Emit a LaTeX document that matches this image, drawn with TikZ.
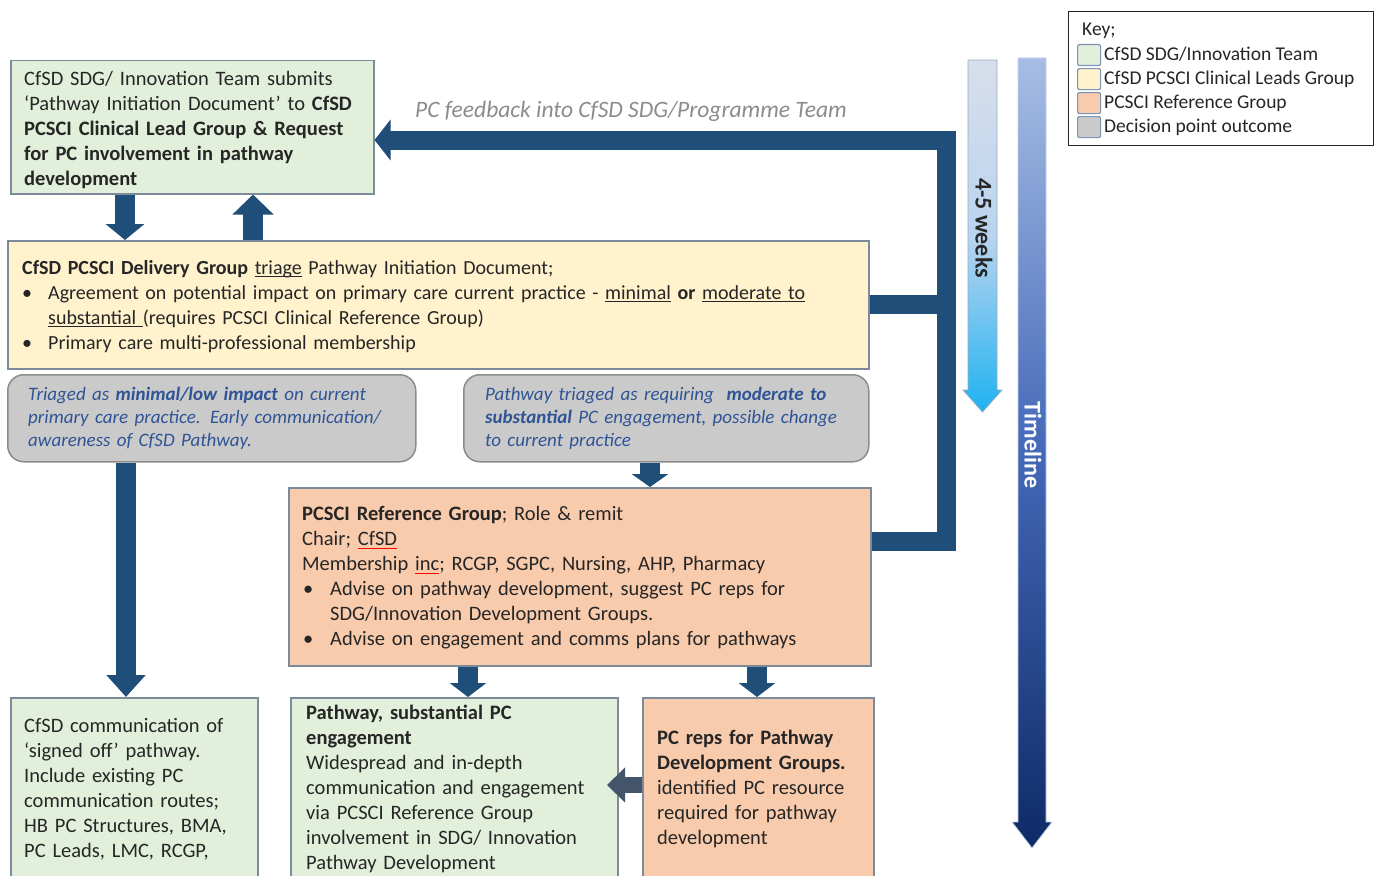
\documentclass[tikz,border=0pt]{standalone}
\usepackage{fontspec}
\setmainfont{Carlito}
\usetikzlibrary{arrows.meta}
\newsavebox\spbox
\newcommand\myul[1]{\sbox\spbox{#1}\rlap{\rule[-3pt]{\wd\spbox}{0.9pt}}\usebox\spbox}
\newcommand\spellerr[1]{\sbox\spbox{#1}\rlap{\textcolor{red}{\rule[-3.5pt]{\wd\spbox}{0.7pt}}}\usebox\spbox}
\definecolor{navy}{HTML}{1F4E79}
\definecolor{greenfill}{HTML}{E2EFDA}
\definecolor{yellowfill}{HTML}{FFF2CC}
\definecolor{orangefill}{HTML}{F8CBAD}
\definecolor{grayfill}{HTML}{CACACA}
\definecolor{boxborder}{HTML}{7C8A99}
\definecolor{graytext}{HTML}{2F5496}
\definecolor{fbgray}{HTML}{8C8C8C}
\definecolor{slate}{HTML}{44546A}
\definecolor{maintext}{HTML}{262626}
\definecolor{swatchborder}{HTML}{7A96B4}
\definecolor{wkTop}{HTML}{D8DEEB}
\definecolor{wkMid}{HTML}{B9D4EF}
\definecolor{wkBot}{HTML}{1FB2F0}
\definecolor{tlTop}{HTML}{A7BDE4}
\definecolor{tlMid}{HTML}{4468B8}
\definecolor{tlBot}{HTML}{0E2A66}
\tikzset{
  box/.style={draw=boxborder, line width=1.5pt, inner sep=0pt, anchor=north west, rectangle},
  graybox/.style={draw=gray!90, line width=1.5pt, inner sep=0pt, anchor=north west, rectangle, rounded corners=16pt, fill=grayfill},
  txt/.style={inner sep=0pt, anchor=base west, align=left, text=maintext, font=\fontsize{20.5}{25}\selectfont},
  graytxt/.style={inner sep=0pt, anchor=base west, align=left, text=graytext, font=\fontsize{19}{23}\selectfont\itshape},
  keytxt/.style={inner sep=0pt, anchor=base west, text=maintext, font=\fontsize{19.5}{24}\selectfont},
  swatch/.style={draw=swatchborder, line width=1.2pt, rounded corners=2pt, minimum width=23pt, minimum height=21pt, inner sep=0pt, anchor=north west},
  blk/.style={draw=navy, line width=20pt, -{Triangle[width=38pt,length=16pt]}},
  fbline/.style={draw=navy, line width=19pt, line join=miter},
}
\begin{document}
\begin{tikzpicture}[x=1pt,y=-1pt]
\useasboundingbox (0,0) rectangle (1375,875);
\clip (0,0) rectangle (1375,875);
\fill[white] (0,0) rectangle (1375,875);

% ---------- boxes ----------
\node[box, fill=greenfill, minimum width=363pt, minimum height=133pt] (top) at (10,60) {};
\node[box, fill=yellowfill, minimum width=861pt, minimum height=128pt] (yellow) at (7,240) {};
\node[graybox, minimum width=408pt, minimum height=87pt] (grayL) at (7,374) {};
\node[graybox, minimum width=405pt, minimum height=87pt] (grayR) at (463,374) {};
\node[box, fill=orangefill, minimum width=582pt, minimum height=178pt] (orange) at (288,487) {};
\node[box, fill=greenfill, minimum width=247pt, minimum height=200pt] (botL) at (10,697) {};
\node[box, fill=greenfill, minimum width=327pt, minimum height=200pt] (botM) at (290,697) {};
\node[box, fill=orangefill, minimum width=231pt, minimum height=200pt] (botR) at (642,697) {};

% ---------- texts ----------
\node[txt, text width=350pt] (topT) at (24,85) {CfSD SDG/ Innovation Team submits\\
‘Pathway Initiation Document’ to \textbf{CfSD}\\
\textbf{PCSCI Clinical Lead Group \& Request}\\
\textbf{for PC involvement in pathway}\\
\textbf{development}};

\node[txt, text width=840pt, font=\fontsize{20}{25}\selectfont] (yellowT) at (22,274) {\textbf{CfSD PCSCI Delivery Group} \myul{triage} Pathway Initiation Document;\\
\makebox[26pt][l]{•}Agreement on potential impact on primary care current practice - \myul{minimal} \textbf{or} \myul{moderate to}\\
\hspace*{26pt}\myul{substantial }(requires PCSCI Clinical Reference Group)\\
\makebox[26pt][l]{•}Primary care multi-professional membership};

\node[graytxt, text width=385pt] (grayLT) at (28,400) {Triaged as \textbf{minimal/low impact} on current\\
primary care practice. Early communication/\\
awareness of CfSD Pathway.};

\node[graytxt, text width=385pt] (grayRT) at (485,400) {Pathway triaged as requiring \ \textbf{moderate to}\\
\textbf{substantial} PC engagement, possible change\\
to current practice};

\node[txt, text width=560pt] (orangeT) at (302,520) {\textbf{PCSCI Reference Group}; Role \& remit\\
Chair; \spellerr{CfSD}\\
Membership \spellerr{inc}; RCGP, SGPC, Nursing, AHP, Pharmacy\\
\hspace*{1pt}\makebox[27pt][l]{•}Advise on pathway development, suggest PC reps for\\
\hspace*{28pt}SDG/Innovation Development Groups.\\
\hspace*{1pt}\makebox[27pt][l]{•}Advise on engagement and comms plans for pathways};

\node[txt, text width=230pt] (botLT) at (24,732) {CfSD communication of\\
‘signed off’ pathway.\\
Include existing PC\\
communication routes;\\
HB PC Structures, BMA,\\
PC Leads, LMC, RCGP,};

\node[txt, text width=310pt] (botMT) at (306,719) {\textbf{Pathway, substantial PC}\\
\textbf{engagement}\\
Widespread and in-depth\\
communication and engagement\\
via PCSCI Reference Group\\
involvement in SDG/ Innovation\\
Pathway Development};

\node[txt, text width=215pt] (botRT) at (657,744) {\textbf{PC reps for Pathway}\\
\textbf{Development Groups.}\\
identified PC resource\\
required for pathway\\
development};

% ---------- block arrows ----------
\draw[blk] ([xshift=115pt]top.south west) -- ([xshift=118pt]yellow.north west);
\draw[blk, -{Triangle[width=40pt,length=20pt]}] ([xshift=246pt]yellow.north west) -- ([xshift=243pt]top.south west);
\draw[blk, -{Triangle[width=38pt,length=22pt]}] ([xshift=119pt]grayL.south west) -- ([xshift=116pt]botL.north west);
\draw[blk, -{Triangle[width=36pt,length=13pt]}] ([xshift=187pt]grayR.south west) -- ([xshift=362pt]orange.north west);
\draw[blk, -{Triangle[width=36pt,length=14pt]}] ([xshift=180pt]orange.south west) -- ([xshift=178pt]botM.north west);
\draw[blk, -{Triangle[width=36pt,length=14pt]}] ([xshift=469pt]orange.south west) -- ([xshift=115pt]botR.north west);
\coordinate (slatetip) at (607,785);
\draw[draw=slate, line width=16pt, -{Triangle[width=34pt,length=18pt]}] (botR.west |- slatetip) -- (slatetip);

% ---------- feedback path ----------
\coordinate (fbcorner) at (946,140);
\coordinate (fbbottom) at (946,541);
\draw[fbline] (yellow.east) -- (yellow.east -| fbcorner);
\draw[fbline, -{Triangle[width=40pt,length=16pt]}] (orange.east |- fbbottom) -- (fbbottom) -- (fbcorner) -- (top.east |- fbcorner);
\node[inner sep=0pt, anchor=base west, text=fbgray, font=\fontsize{23.5}{25}\selectfont\itshape] (fblabel) at (415,117) {PC feedback into CfSD SDG/Programme Team};

% ---------- 4-5 weeks arrow ----------
\path[draw=swatchborder!80, line width=0.8pt, top color=wkTop, bottom color=wkBot, middle color=wkMid] (968,60) -- (997,60) -- (997,390) -- (1002,390) -- (982.5,412) -- (963,390) -- (968,390) -- cycle;
\node[inner sep=0pt, rotate=-90, text=maintext, font=\fontsize{24}{25}\selectfont\bfseries] (weeks) at (984,228) {4-5 weeks};

% ---------- timeline arrow ----------
\path[draw=tlTop!70, line width=0.8pt, top color=tlTop, bottom color=tlBot, middle color=tlMid] (1018,58) -- (1046,58) -- (1046,822) -- (1052,822) -- (1032,848) -- (1012,822) -- (1018,822) -- cycle;
\node[inner sep=0pt, rotate=-90, text=white, font=\fontsize{24}{25}\selectfont\bfseries] (timeline) at (1033,445) {Timeline};

% ---------- key ----------
\node[draw=black!85, line width=1.3pt, minimum width=305pt, minimum height=134pt, inner sep=0pt, anchor=north west] (key) at (1068,11) {};
\node[keytxt] (keyT) at (1082,36) {Key;};
\node[swatch, fill=greenfill] (sw1) at (1077,44) {};
\node[swatch, fill=yellowfill] (sw2) at (1077,68) {};
\node[swatch, fill=orangefill] (sw3) at (1077,92) {};
\node[swatch, fill=grayfill] (sw4) at (1077,116) {};
\node[keytxt] (k1) at (1104,60) {CfSD SDG/Innovation Team};
\node[keytxt] (k2) at (1104,84) {CfSD PCSCI Clinical Leads Group};
\node[keytxt] (k3) at (1104,108) {PCSCI Reference Group};
\node[keytxt] (k4) at (1104,132) {Decision point outcome};
\end{tikzpicture}
\end{document}
